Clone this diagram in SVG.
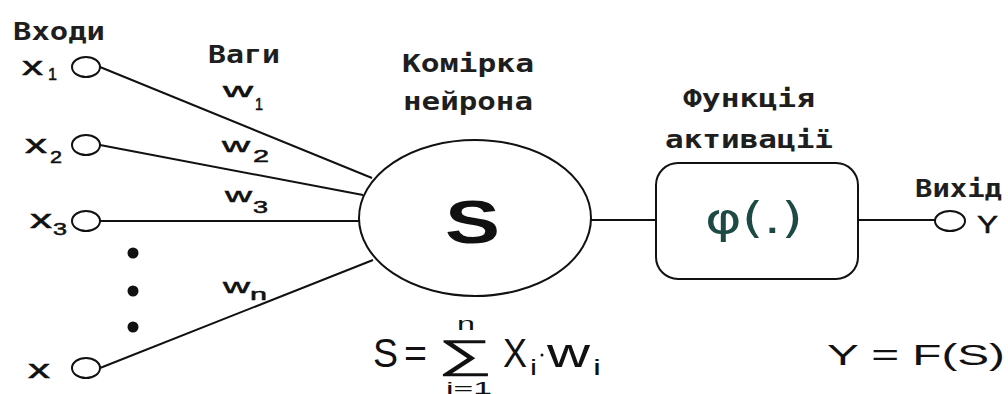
<svg xmlns="http://www.w3.org/2000/svg" width="1008" height="394" viewBox="0 0 1008 394">
  <style>
    .lbl { font-family: "DejaVu Sans Mono", "Liberation Mono", monospace; font-weight: bold; font-size: 24px; fill: #1e1e1e; }
    .math { font-family: "Liberation Sans", Arial, sans-serif; fill: #111; }
    .thick { stroke: #111; stroke-width: 0.5; }
    .wire { stroke: #111; stroke-width: 2; fill: none; }
    .port { stroke: #111; stroke-width: 2; fill: #fff; }
  </style>
  <rect width="1008" height="394" fill="#fff"/>

  <!-- section titles -->
  <g id="titles">
    <text class="lbl" x="13" y="40" textLength="92" lengthAdjust="spacingAndGlyphs">Входи</text>
    <text class="lbl" x="208" y="63" textLength="72" lengthAdjust="spacingAndGlyphs">Ваги</text>
    <text class="lbl" x="402" y="72" textLength="132" lengthAdjust="spacingAndGlyphs">Комірка</text>
    <text class="lbl" x="403" y="110" textLength="130" lengthAdjust="spacingAndGlyphs">нейрона</text>
    <text class="lbl" x="683" y="107" textLength="132" lengthAdjust="spacingAndGlyphs">Функція</text>
    <text class="lbl" x="665" y="148" textLength="168" lengthAdjust="spacingAndGlyphs">активації</text>
    <text class="lbl" x="915" y="197" textLength="87" lengthAdjust="spacingAndGlyphs">Вихід</text>
  </g>

  <!-- weighted input connectors and signal lines -->
  <g id="connectors">
    <line class="wire" x1="100" y1="67" x2="372" y2="178"/>
    <line class="wire" x1="100" y1="145" x2="363" y2="195"/>
    <line class="wire" x1="100" y1="221" x2="359" y2="221" stroke-width="2.5"/>
    <line class="wire" x1="100" y1="368" x2="373" y2="260"/>
    <line class="wire" x1="591" y1="220" x2="655" y2="220"/>
    <line class="wire" x1="858" y1="220" x2="935" y2="220"/>
  </g>

  <!-- weight labels -->
  <g id="weights" class="math thick">
    <text x="223" y="97" font-size="20" textLength="30" lengthAdjust="spacingAndGlyphs">w</text>
    <text x="255" y="110" font-size="16" textLength="8" lengthAdjust="spacingAndGlyphs">1</text>
    <text x="222" y="152" font-size="20" textLength="28" lengthAdjust="spacingAndGlyphs">w</text>
    <text x="253" y="162" font-size="16" textLength="16" lengthAdjust="spacingAndGlyphs">2</text>
    <text x="225" y="202" font-size="20" textLength="27" lengthAdjust="spacingAndGlyphs">w</text>
    <text x="253" y="213" font-size="16" textLength="15" lengthAdjust="spacingAndGlyphs">3</text>
    <text x="223" y="293" font-size="20" textLength="27" lengthAdjust="spacingAndGlyphs">w</text>
    <text x="250" y="300" font-size="16" textLength="17" lengthAdjust="spacingAndGlyphs">n</text>
  </g>

  <!-- inputs -->
  <g id="input-x1" class="math thick">
    <ellipse class="port" cx="86" cy="67" rx="14" ry="10"/>
    <text x="22" y="75" font-size="25" textLength="21" lengthAdjust="spacingAndGlyphs">x</text>
    <text x="48" y="80" font-size="17" textLength="9" lengthAdjust="spacingAndGlyphs">1</text>
  </g>
  <g id="input-x2" class="math thick">
    <ellipse class="port" cx="86" cy="145" rx="14" ry="10"/>
    <text x="25" y="153" font-size="25" textLength="22" lengthAdjust="spacingAndGlyphs">x</text>
    <text x="50" y="163" font-size="17" textLength="12" lengthAdjust="spacingAndGlyphs">2</text>
  </g>
  <g id="input-x3" class="math thick">
    <ellipse class="port" cx="86" cy="221" rx="14" ry="10"/>
    <text x="30" y="228" font-size="25" textLength="22" lengthAdjust="spacingAndGlyphs">x</text>
    <text x="53" y="235" font-size="17" textLength="14" lengthAdjust="spacingAndGlyphs">3</text>
  </g>
  <g id="ellipsis">
    <circle cx="133" cy="253" r="5.5" fill="#111"/>
    <circle cx="133" cy="291" r="5.5" fill="#111"/>
    <circle cx="133" cy="327" r="5.5" fill="#111"/>
  </g>
  <g id="input-xn" class="math thick">
    <ellipse class="port" cx="86" cy="368" rx="14" ry="10"/>
    <text x="28" y="378" font-size="25" textLength="22" lengthAdjust="spacingAndGlyphs">x</text>
  </g>

  <!-- summing cell -->
  <g id="neuron">
    <ellipse class="port" cx="475" cy="218" rx="116" ry="78"/>
    <text class="math" x="445" y="243" font-size="62" font-weight="bold" textLength="55" lengthAdjust="spacingAndGlyphs">S</text>
  </g>

  <!-- activation function -->
  <g id="activation">
    <rect class="port" x="656" y="163" width="202" height="116" rx="22"/>
    <text x="705" y="233" font-family="'DejaVu Sans', sans-serif" font-size="42" fill="#1d4a44" textLength="98" lengthAdjust="spacingAndGlyphs">φ(.)</text>
  </g>

  <!-- output -->
  <g id="output">
    <ellipse class="port" cx="950" cy="221" rx="15" ry="10"/>
    <text class="math thick" x="977" y="233" font-size="24" textLength="21" lengthAdjust="spacingAndGlyphs">Y</text>
  </g>

  <!-- weighted sum formula -->
  <g id="sum-formula" class="math">
    <text x="373" y="367" font-size="41" textLength="25" lengthAdjust="spacingAndGlyphs">S</text>
    <text x="404" y="367" font-size="41" textLength="23" lengthAdjust="spacingAndGlyphs">=</text>
    <text x="437" y="368" font-size="40" textLength="56" lengthAdjust="spacingAndGlyphs">∑</text>
    <text x="457" y="330" font-size="19" textLength="18" lengthAdjust="spacingAndGlyphs">n</text>
    <text x="446" y="394" font-size="16" textLength="46" lengthAdjust="spacingAndGlyphs">i=1</text>
    <text x="503" y="367" font-size="40" textLength="24" lengthAdjust="spacingAndGlyphs">X</text>
    <text x="530" y="375" font-size="22" textLength="7" lengthAdjust="spacingAndGlyphs">i</text>
    <circle cx="542" cy="355" r="1.5" fill="#111"/>
    <text x="547" y="367" font-size="40" textLength="43" lengthAdjust="spacingAndGlyphs">w</text>
    <text x="593" y="375" font-size="22" textLength="8" lengthAdjust="spacingAndGlyphs">i</text>
  </g>

  <!-- output formula -->
  <g id="output-formula" class="math">
    <text x="827" y="365" font-size="30" textLength="178" lengthAdjust="spacingAndGlyphs">Y = F(S)</text>
  </g>
</svg>
